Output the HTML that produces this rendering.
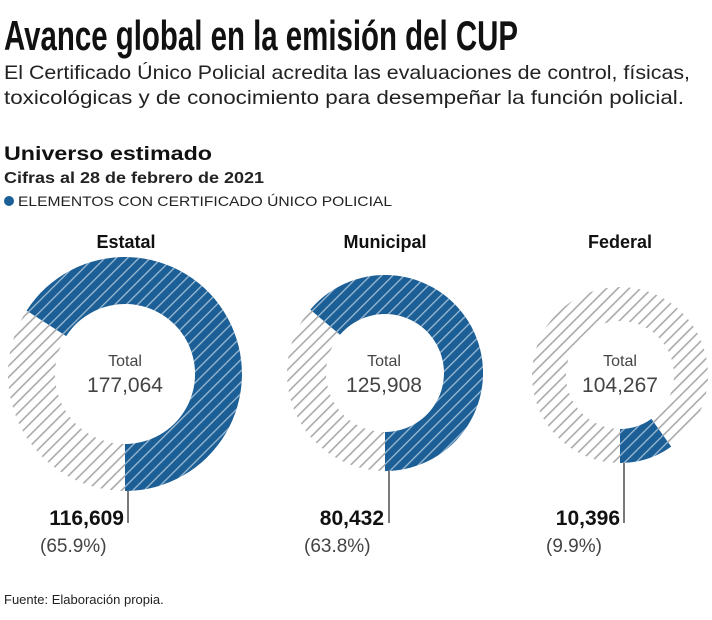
<!DOCTYPE html>
<html><head><meta charset="utf-8"><style>
body{margin:0;background:#fff;width:712px;height:620px;overflow:hidden}
svg{display:block;font-family:"Liberation Sans",sans-serif}
</style></head><body>
<svg width="712" height="620" viewBox="0 0 712 620">
<defs>
<pattern id="hg" width="8" height="8" patternUnits="userSpaceOnUse" patternTransform="rotate(45)">
<rect width="8" height="8" fill="#fff"/><rect width="1.6" height="8" fill="#aaa"/></pattern>
<pattern id="hb" width="8" height="8" patternUnits="userSpaceOnUse" patternTransform="rotate(45)">
<rect width="8" height="8" fill="#1b5f96"/><rect width="1.3" height="8" fill="#9dbbd3"/></pattern>
</defs>
<text x="4" y="50" font-size="42" font-weight="bold" fill="#111" textLength="514" lengthAdjust="spacingAndGlyphs">Avance global en la emisión del CUP</text>
<text x="4" y="79" font-size="19.5" fill="#222" textLength="686" lengthAdjust="spacingAndGlyphs">El Certificado Único Policial acredita las evaluaciones de control, físicas,</text>
<text x="4" y="104" font-size="19.5" fill="#222" textLength="680" lengthAdjust="spacingAndGlyphs">toxicológicas y de conocimiento para desempeñar la función policial.</text>
<text x="4" y="160" font-size="19" font-weight="bold" fill="#111" textLength="208" lengthAdjust="spacingAndGlyphs">Universo estimado</text>
<text x="4" y="183" font-size="16" font-weight="bold" fill="#222" textLength="260" lengthAdjust="spacingAndGlyphs">Cifras al 28 de febrero de 2021</text>
<circle cx="9" cy="201" r="5" fill="#1b5f96"/>
<text x="18" y="206" font-size="14" fill="#222" textLength="374" lengthAdjust="spacingAndGlyphs">ELEMENTOS CON CERTIFICADO ÚNICO POLICIAL</text>

<!-- Estatal -->
<text x="126" y="248" font-size="18" font-weight="bold" text-anchor="middle" fill="#111">Estatal</text>
<circle cx="125" cy="374" r="93.5" fill="none" stroke="url(#hg)" stroke-width="47"/>
<path d="M26.6,310.6 A117,117 0 1 1 125,491 L125,444 A70,70 0 1 0 66.2,336.1 Z" fill="url(#hb)"/>
<text x="125" y="366" font-size="16" text-anchor="middle" fill="#444">Total</text>
<text x="125" y="392" font-size="21" text-anchor="middle" fill="#444">177,064</text>
<line x1="128" y1="491" x2="128" y2="523" stroke="#222" stroke-width="1.2"/>
<text x="124" y="525" font-size="21" font-weight="bold" text-anchor="end" fill="#111">116,609</text>
<text x="40" y="552" font-size="19" fill="#444">(65.9%)</text>

<!-- Municipal -->
<text x="385" y="248" font-size="18" font-weight="bold" text-anchor="middle" fill="#111">Municipal</text>
<circle cx="385" cy="373" r="78.5" fill="none" stroke="url(#hg)" stroke-width="39"/>
<path d="M310.3,309.6 A98,98 0 1 1 385,471 L385,432 A59,59 0 1 0 340,334.8 Z" fill="url(#hb)"/>
<text x="384" y="366" font-size="16" text-anchor="middle" fill="#444">Total</text>
<text x="384" y="392" font-size="21" text-anchor="middle" fill="#444">125,908</text>
<line x1="389" y1="471" x2="389" y2="523" stroke="#222" stroke-width="1.2"/>
<text x="384" y="525" font-size="21" font-weight="bold" text-anchor="end" fill="#111">80,432</text>
<text x="304" y="552" font-size="19" fill="#444">(63.8%)</text>

<!-- Federal -->
<text x="620" y="248" font-size="18" font-weight="bold" text-anchor="middle" fill="#111">Federal</text>
<circle cx="620" cy="375" r="71" fill="none" stroke="url(#hg)" stroke-width="34"/>
<path d="M620,463 A88,88 0 0 0 671.2,446.6 L651.4,418.9 A54,54 0 0 1 620,429 Z" fill="url(#hb)"/>
<text x="620" y="366" font-size="16" text-anchor="middle" fill="#444">Total</text>
<text x="620" y="392" font-size="21" text-anchor="middle" fill="#444">104,267</text>
<line x1="624" y1="463" x2="624" y2="523" stroke="#222" stroke-width="1.2"/>
<text x="620" y="525" font-size="21" font-weight="bold" text-anchor="end" fill="#111">10,396</text>
<text x="546" y="552" font-size="19" fill="#444">(9.9%)</text>

<text x="4" y="604" font-size="13" fill="#222">Fuente: Elaboración propia.</text>
</svg>
</body></html>
